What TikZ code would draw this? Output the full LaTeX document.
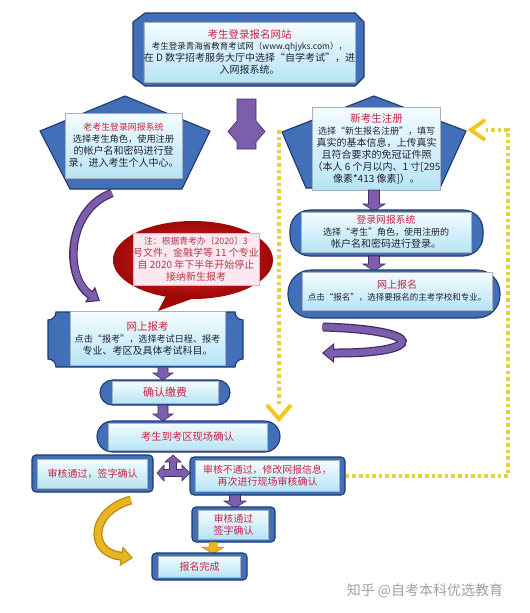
\documentclass[tikz,border=0pt]{standalone}
\usepackage{fontspec}
\setmainfont{Noto Sans CJK SC}
\usetikzlibrary{arrows.meta}
\definecolor{bblue}{HTML}{4170B8}
\definecolor{bdark}{HTML}{1E3A6E}
\definecolor{ltop}{HTML}{F4FCFF}
\definecolor{lbot}{HTML}{B6E4F4}
\definecolor{tred}{HTML}{CC2244}
\definecolor{txt}{HTML}{222233}
\definecolor{pur}{HTML}{7D5EAA}
\definecolor{purd}{HTML}{3F2C6C}
\definecolor{dotc}{HTML}{E6D23A}
\definecolor{chev}{HTML}{F2C81E}
\definecolor{gold}{HTML}{E9B422}
\definecolor{goldd}{HTML}{B8860B}
\definecolor{redin}{HTML}{E02A2A}
\definecolor{redout}{HTML}{A00808}
\definecolor{pinkb}{HTML}{FBE8F0}
\definecolor{notec}{HTML}{B23A4A}
\definecolor{wm}{HTML}{A0A0A0}
\newcommand\ttl[1]{{\color{tred}#1}}
\newcommand\fs[2]{\fontsize{#1}{#2}\selectfont}
% down block arrow: fill, x, ytop, ybottom, shaft half width, head half width
\newcommand\dnarr[6]{%
  \filldraw[fill=#1, draw=purd, line width=0.6pt, line join=miter]
   (#2-#5,#3) -- (#2+#5,#3) -- (#2+#5,#4-7) -- (#2+#6,#4-7) -- (#2,#4)
   -- (#2-#6,#4-7) -- (#2-#5,#4-7) -- cycle;}
\begin{document}
\begin{tikzpicture}[x=1pt,y=-1pt,
  inbox/.style={draw=bdark!40, line width=0.5pt, top color=ltop, bottom color=lbot,
    inner sep=0pt, align=center, text=txt},
  plate/.style={fill=bblue, draw=bdark, line width=1.1pt},
  dotline/.style={dotc, line width=3.6pt, dash pattern=on 3.6pt off 3pt},
  chevron/.style={chev, line width=4pt, line join=miter, line cap=butt},
]
\useasboundingbox (0,0) rectangle (530,613);

% ---------- top box ----------
\filldraw[plate] (145,13) -- (355,13) -- (364,22) -- (364,77) -- (355,86) -- (145,86)
  -- (133,77) -- (133,22) -- cycle;
\node[inbox, minimum width=205, minimum height=60] (top) at (249.5,52)
  {\fs{10.5}{15}\ttl{考生登录报名网站}\\[-1pt]
   \fs{8.5}{12.5}考生登录青海省教育考试网（www.qhjyks.com），\\
   在 D 数字招考服务大厅中选择“自学考试”，进\\入网报系统。};

% ---------- purple double arrow ----------
\filldraw[fill=pur, draw=purd, line width=0.6pt, line join=miter]
  (237,99) -- (256,99) -- (256,121) -- (265,131.5) -- (256,142) -- (256,149)
  -- (237,149) -- (237,142) -- (228,131.5) -- (237,121) -- cycle;

% ---------- left pentagon ----------
\filldraw[plate] (125,96) -- (210,131) -- (182,189) -- (70,189) -- (40,131) -- cycle;
\node[inbox, minimum width=117, minimum height=65] (old) at (123.5,145.5)
  {\fs{8.9}{13}\ttl{老考生登录网报系统}\\
   \fs{9.2}{13}选择考生角色，使用注册\\的帐户名和密码进行登\\录，进入考生个人中心。};

% ---------- right pentagon ----------
\filldraw[plate] (374,96) -- (466,131) -- (440,188) -- (306,188) -- (282,132) -- cycle;
\node[inbox, minimum width=127, minimum height=83] (new) at (376.5,148.5)
  {\fs{10.5}{14}\ttl{新考生注册}\\
   \fs{9}{13}选择“新生报名注册”，填写\\真实的基本信息，上传真实\\且符合要求的免冠证件照\\
   （本人 6 个月以内、1 寸[295\\像素*413 像素]）。};

% ---------- right column ----------
\dnarr{pur}{374}{190}{211}{5.5}{11}
\filldraw[plate, rounded corners=20] (290,210) rectangle (483,256);
\node[inbox, minimum width=170, minimum height=40] (login) at (386,232)
  {\fs{9.8}{13}\ttl{登录网报系统}\\
   \fs{9}{12.5}选择“考生”角色，使用注册的\\帐户名和密码进行登录。};
\dnarr{pur}{374}{256}{271}{5.5}{11}
\filldraw[plate, rounded corners=23] (288,270) rectangle (500,318);
\node[inbox, minimum width=190, minimum height=38] (apply) at (397,291)
  {\fs{10}{15}\ttl{网上报名}\\
   \fs{8.5}{12}点击“报名”，选择要报名的主考学校和专业。};

% U-turn arrow
\draw[purd, line width=9pt, -{Triangle[width=19pt,length=12pt]}]
  (323,327) .. controls (428,330) and (424,353) .. (338,353) -- (322,353);
\draw[pur, line width=6.5pt, shorten >=1.8pt, -{Triangle[width=14.5pt,length=9pt]}]
  (322,327) .. controls (428,330) and (424,353) .. (338,353) -- (322,353);

% ---------- red callout ----------
\shade[inner color=redin, outer color=redout] (193,260) ellipse [x radius=80, y radius=39];
\fill[redout] (168,292) -- (158,311) -- (200,296) -- cycle;
\node[draw=notec!40, line width=0.4pt, fill=pinkb, inner sep=0pt, align=center,
  minimum width=122, minimum height=52, text=notec] (note) at (196,259)
  {\fs{8.8}{11.5}注：根据青考办〔2020〕3\\号文件，金融学等 11 个专业\\
   自 2020 年下半年开始停止\\接纳新生报考};

% left curved arrow
\draw[purd, line width=8.5pt, -{Triangle[width=18pt,length=12pt]}]
  (112,193) .. controls (66,210) and (64,278) .. (100,301);
\draw[pur, line width=6pt, shorten >=1.8pt, -{Triangle[width=13.5pt,length=9pt]}]
  (112,193) .. controls (66,210) and (64,278) .. (100,301);

% ---------- left column ----------
\filldraw[plate] (56,312) -- (235,312) .. controls (235,316.4) and (238.6,320) .. (243,320)
  -- (243,359) .. controls (238.6,359) and (235,362.6) .. (235,367) -- (56,367)
  .. controls (56,362.6) and (52.4,359) .. (48,359) -- (48,320)
  .. controls (52.4,320) and (56,316.4) .. (56,312) -- cycle;
\node[inbox, minimum width=155, minimum height=54] (exam) at (147.5,338)
  {\fs{10.5}{15}\ttl{网上报考}\\
   \fs{9.1}{13}点击“报考”，选择考试日程、报考\\专业、考区及具体考试科目。};
\dnarr{pur}{163}{367}{380}{5}{10}
\filldraw[plate, rounded corners=12.5] (100,380) rectangle (230,405);
\node[inbox, minimum width=106, minimum height=22] (pay) at (165,392.5)
  {\fs{11}{13}\ttl{确认缴费}};
\dnarr{pur}{163}{405}{421}{5}{10}
\filldraw[plate, rounded corners=15.5] (97,421) rectangle (280,452);
\node[inbox, minimum width=159, minimum height=27] (site) at (187.5,436.5)
  {\fs{10.3}{13}\ttl{考生到考区现场确认}};

% three-way arrow
\filldraw[fill=pur, draw=purd, line width=0.6pt, line join=miter]
  (173,455) -- (181,462) -- (176.5,462) -- (176.5,469.5) -- (182,469.5) -- (182,465)
  -- (190,473) -- (182,481) -- (182,476.5) -- (164,476.5) -- (164,481) -- (157,473)
  -- (164,465) -- (164,469.5) -- (169.5,469.5) -- (169.5,462) -- (165,462) -- cycle;

% pass box
\filldraw[plate, rounded corners=4] (32,455) rectangle (153,492);
\node[inbox, minimum width=110, minimum height=29] (pass) at (92.5,473.5)
  {\fs{10}{13}\ttl{审核通过，签字确认}};
% fail box
\filldraw[plate, rounded corners=4] (190,457) rectangle (345,495);
\node[inbox, minimum width=144, minimum height=31] (fail) at (267.5,476)
  {\fs{9.9}{12.5}\ttl{审核不通过，修改网报信息，}\\\ttl{再次进行现场审核确认}};
\dnarr{pur}{235}{495}{508}{5.5}{11}
% pass2 box
\filldraw[plate, rounded corners=4] (192,507) rectangle (275,542);
\node[inbox, minimum width=70, minimum height=29] (pass2) at (233.5,524.5)
  {\fs{9.8}{12}\ttl{审核通过}\\\ttl{签字确认}};
\filldraw[fill=gold, draw=goldd, line width=0.5pt, line join=miter]
  (209,542) -- (217,542) -- (217,547) -- (224,547) -- (213,554) -- (202,547) -- (209,547) -- cycle;
% done box
\filldraw[plate, rounded corners=4] (152,553) rectangle (247,580);
\node[inbox, minimum width=82, minimum height=21] (done) at (199.5,566.5)
  {\fs{10}{12}\ttl{报名完成}};

% yellow curved arrow
\draw[goldd, line width=9pt, -{Triangle[width=19pt,length=12pt]}]
  (131,500) .. controls (90,511) and (88,552) .. (120,556) -- (133,558);
\draw[gold, line width=6.5pt, shorten >=1.8pt, -{Triangle[width=14.5pt,length=9pt]}]
  (131,500) .. controls (90,511) and (88,552) .. (120,556) -- (133,558);

% ---------- dotted yellow connectors ----------
\coordinate (lTop) at (279,130);
\coordinate (lEnd) at (279,405);
\coordinate (rCorner) at (508,130);
\coordinate (rEnd) at (486,130);
\draw[dotline] (lTop) -- (lEnd);
\draw[chevron] (267,405) -- (279,419) -- (291,405);
\draw[dotline] (fail.east) ++(6,0) -| (rCorner) -- (rEnd);
\draw[chevron] (485,120) -- (471,130) -- (485,140);

% watermark
\node[text=wm, font=\fs{14}{16}] (wmark) at (425,591) {知乎 @自考本科优选教育};
\end{tikzpicture}
\end{document}
